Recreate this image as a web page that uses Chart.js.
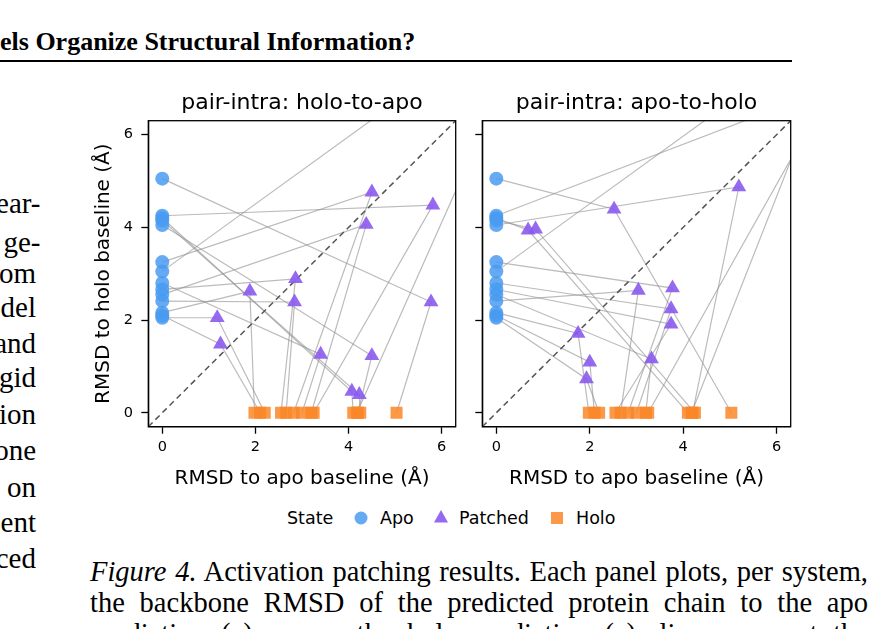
<!DOCTYPE html>
<html><head><meta charset="utf-8">
<script src="https://cdn.jsdelivr.net/npm/chart.js@4.4.1/dist/chart.umd.min.js"></script>
<style>
html,body{margin:0;padding:0;background:#fff;width:883px;height:629px;overflow:hidden;position:relative}
.serif{font-family:"Liberation Serif","Times New Roman",serif;color:#000;position:absolute;white-space:nowrap;font-size:29px;line-height:32px}
.col{right:847px;text-align:right}
.hy{right:842.5px;text-align:right}
.cap{left:90px;width:778px;text-align:justify;text-align-last:justify;font-size:28.5px}
.sans{font-family:"DejaVu Sans",sans-serif;position:absolute;font-size:17.5px;line-height:20px;color:#000;white-space:nowrap}
canvas{position:absolute}
</style></head><body>
<div class="serif" style="left:0;top:27px;font-size:26px;line-height:30px;font-weight:bold">els Organize Structural Information?</div>
<div style="position:absolute;left:0;top:59.5px;width:792px;height:2.5px;background:#000"></div>

<div class="serif hy" style="top:186.7px">ear-</div>
<div class="serif hy" style="top:225.7px">ge-</div>
<div class="serif col" style="top:256.7px">om</div>
<div class="serif col" style="top:290.7px">del</div>
<div class="serif col" style="top:326.7px">and</div>
<div class="serif col" style="top:360.7px">gid</div>
<div class="serif col" style="top:397.7px">ion</div>
<div class="serif col" style="top:433.7px">one</div>
<div class="serif col" style="top:470.7px">on</div>
<div class="serif col" style="top:505.7px">ent</div>
<div class="serif col" style="top:541.7px">ced</div>

<canvas id="c1" width="390" height="420" style="left:80px;top:80px"></canvas>
<canvas id="c2" width="335" height="420" style="left:470px;top:80px"></canvas>

<div class="sans" style="left:287px;top:508px">State</div>
<svg style="position:absolute;left:354px;top:511px" width="14" height="14"><circle cx="7" cy="7" r="6.5" fill="rgba(74,155,241,0.85)"/></svg>
<div class="sans" style="left:380px;top:508px">Apo</div>
<svg style="position:absolute;left:433px;top:510px" width="16" height="14"><polygon points="8,0 15,12.5 1,12.5" fill="rgba(137,90,240,0.9)"/></svg>
<div class="sans" style="left:459px;top:508px">Patched</div>
<svg style="position:absolute;left:551px;top:512px" width="12" height="12"><rect x="0" y="0" width="12" height="12" fill="rgba(250,135,40,0.85)"/></svg>
<div class="sans" style="left:576px;top:508px">Holo</div>

<div class="serif cap" style="top:556.4px"><i>Figure 4.</i> Activation patching results. Each panel plots, per system,</div>
<div class="serif cap" style="top:587.4px">the backbone RMSD of the predicted protein chain to the apo</div>
<div class="serif cap" style="top:618.4px">prediction (<i>x</i>) versus the holo prediction (<i>y</i>); lines connect the</div>

<script>
// ---- data (RMSD in Å) ----
const tickVals = [0, 2, 4, 6];
const axisMin = -0.3, axisMax = 6.3;
const diagonalXY = [-0.3, 6.3];
// per system: apo state -> (0, apoY), holo state -> (holoX, 0)
const apoY  = [5.05, 4.25, 4.20, 4.15, 4.05, 3.25, 3.05, 2.80, 2.66, 2.55, 2.41, 2.16, 2.10, 2.05];
const holoX = [5.03, 3.25, 4.10, 4.25, 4.20, 2.82, 4.18, 3.00, 2.55, 3.20, 2.66, 1.98, 2.10, 2.20];
// patched, holo-to-apo
const h2aX = [5.77, 5.81, 4.07, 4.23, 4.50, 4.50, 8.16, 3.40, 2.86, 4.38, 2.84, 1.88, 1.25, 1.18];
const h2aY = [2.39, 4.48, 0.46, 0.39, 1.23, 4.76, 8.98, 1.26, 2.89, 4.06, 2.39, 2.62, 1.48, 2.05];
// patched, apo-to-holo
const a2hX = [2.52, 7.16, 0.68, 0.84, 5.19, 3.77, 7.50, 3.74, 3.74, 3.32, 3.04, 1.75, 2.00, 1.93];
const a2hY = [4.39, 7.01, 3.94, 3.96, 4.87, 2.69, 8.52, 2.24, 1.91, 1.16, 2.64, 1.71, 1.09, 0.73];

const APO = 'rgba(74,155,241,0.85)', PATCH = 'rgba(137,90,240,0.9)', HOLO = 'rgba(250,135,40,0.85)';
const LINE = 'rgba(145,145,145,0.62)';
const FONT = 'DejaVu Sans';

const framePlugin = {id:'frame', afterDraw(chart){
  const {ctx, chartArea:a} = chart;
  ctx.save(); ctx.strokeStyle = '#000'; ctx.lineWidth = 1.3;
  ctx.strokeRect(a.left, a.top, a.right - a.left, a.bottom - a.top); ctx.restore();
}};

function datasets(px, py){
  const ds = [];
  ds.push({label:'Patched', data: px.map((x,i)=>({x, y:py[i]})), pointStyle:'triangle', pointRadius:8.6,
    backgroundColor:PATCH, borderWidth:0, pointBorderWidth:0, order:0});
  ds.push({label:'Holo', data: holoX.map(x=>({x, y:0})), pointStyle:'rect', pointRadius:8.5,
    backgroundColor:HOLO, borderWidth:0, pointBorderWidth:0, order:1});
  ds.push({label:'Apo', data: apoY.map(y=>({x:0, y})), pointStyle:'circle', pointRadius:7,
    backgroundColor:APO, borderWidth:0, pointBorderWidth:0, order:1});
  ds.push({label:'diag', data: diagonalXY.map(v=>({x:v, y:v})), showLine:true, borderColor:'#555',
    borderWidth:1.5, borderDash:[6,4], pointRadius:0, order:2});
  apoY.forEach((y,i)=>{
    ds.push({label:'sys'+i, data:[{x:0,y},{x:px[i],y:py[i]},{x:holoX[i],y:0}], showLine:true,
      borderColor:LINE, borderWidth:1.2, pointRadius:0, order:3});
  });
  return ds;
}

function axisX(){
  return {type:'linear', min:axisMin, max:axisMax,
    afterBuildTicks: s => { s.ticks = tickVals.map(v=>({value:v})); },
    afterFit: s => { s.height = 73.3; },
    grid:{display:true, drawOnChartArea:false, drawTicks:true, tickLength:7, tickWidth:1.3, tickColor:'#000'},
    border:{display:true, color:'#000', width:1.3},
    ticks:{font:{family:FONT, size:14.5}, color:'#000', padding:4.6, maxRotation:0, autoSkip:false},
    title:{display:true, text:'RMSD to apo baseline (Å)', font:{family:FONT, size:20}, color:'#000', padding:{top:0, bottom:9.5}}
  };
}

function make(id, title, px, py, first){
  const yAxis = {type:'linear', min:axisMin, max:axisMax,
    afterBuildTicks: s => { s.ticks = tickVals.map(v=>({value:v})); },
    afterFit: s => { s.width = first ? 68.3 : 12.3; },
    grid:{display:true, drawOnChartArea:false, drawTicks:true, tickLength:7, tickWidth:1.3, tickColor:'#000'},
    border:{display:true, color:'#000', width:1.3},
    ticks:{font:{family:FONT, size:14.5}, color:'#000', padding:8.3, autoSkip:false,
      callback: v => first ? String(v) : ''},
    title:{display:first, text:'RMSD to holo baseline (Å)', font:{family:FONT, size:20}, color:'#000', padding:{top:12, bottom:0}}
  };
  new Chart(document.getElementById(id), {
    type:'scatter',
    data:{datasets: datasets(px, py)},
    options:{
      responsive:false, animation:false, devicePixelRatio:1,
      layout:{padding:{left:0, top:0, right:14.3, bottom:0}},
      scales:{x: axisX(), y: yAxis},
      plugins:{
        legend:{display:false}, tooltip:{enabled:false},
        title:{display:true, text:title, fullSize:false, color:'#000',
          font:{family:FONT, size:22, weight:'normal'}, padding:{top:10.3, bottom:4}}
      }
    },
    plugins:[framePlugin]
  });
}

make('c1', 'pair-intra: holo-to-apo', h2aX, h2aY, true);
make('c2', 'pair-intra: apo-to-holo', a2hX, a2hY, false);
</script>
</body></html>
